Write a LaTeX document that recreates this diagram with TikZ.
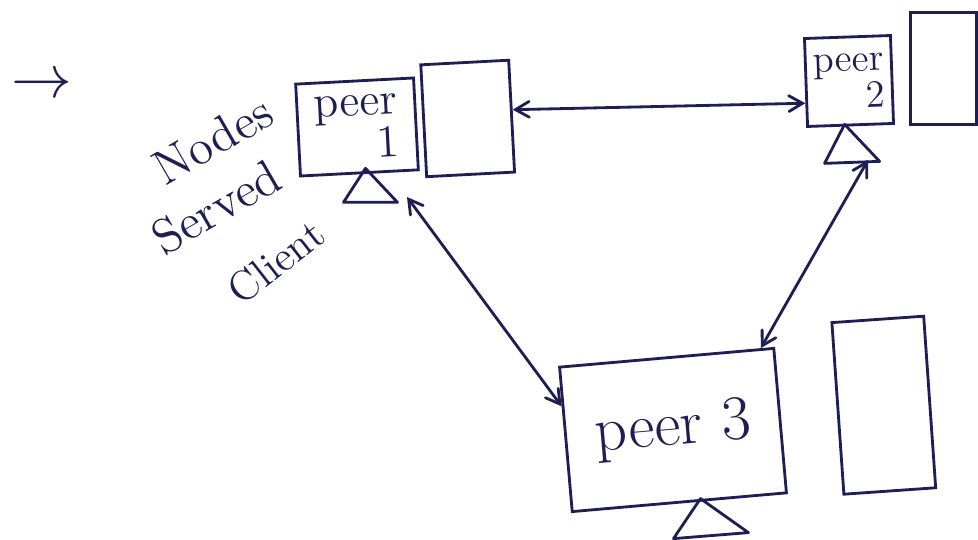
\documentclass[tikz,border=0pt]{standalone}
\usepackage{xcolor}
\usepackage{tikz}
\usetikzlibrary{shapes.geometric, arrows, positioning, calc}
\definecolor{ink}{RGB}{30,30,85}

\begin{document}
\begin{tikzpicture}[
    x=0.1mm, y=-0.1mm,
    box/.style = {rectangle, draw=ink, thick, text=ink, align=right, inner sep=1pt},
    tower/.style = {rectangle, draw=ink, thick, minimum width=8.8mm, minimum height=11.2mm},
    note/.style = {text=ink, font=\fontsize{14}{16}\selectfont, rotate=30},
    arrow/.style = {thick, draw=ink, <->, >=angle 60},
    stand/.style = {draw=ink, thick, line join=round}
]
\useasboundingbox[fill=white] (0,0) rectangle (978,540);

% Peers with their towers
\node (peer1) [box, minimum width=11.8mm, minimum height=9.2mm, rotate=3, font=\fontsize{13}{11}\selectfont] at (357,127) {peer\\1};
\node (tower1) [tower, right=0.5mm of peer1, yshift=0.3mm, rotate=3] {};
\node (peer2) [box, minimum width=8.6mm, minimum height=8.8mm, rotate=2, font=\fontsize{11}{9}\selectfont] at (849,81) {peer\\2};
\node (tower2) [tower, minimum width=6.6mm, right=1.6mm of peer2, yshift=1.1mm] {};
\node (peer3) [box, minimum width=21.5mm, minimum height=14.5mm, rotate=5, font=\fontsize{18}{20}\selectfont] at (673,430) {peer 3};
\node (tower3) [tower, minimum width=9.2mm, minimum height=17.2mm, right=5.5mm of peer3, yshift=1.2mm, rotate=4] {};

% Stands
\draw [stand] (peer1.south) ++(6,-6) -- ++(-22,34) -- ++(54,0) -- cycle;
\draw [stand] (peer2.south) ++(-6,-2) -- ++(-20,39) -- ++(55,-2) -- cycle;
\draw [stand] (peer3.south) ++(21,-5) -- ++(-27,40) -- ++(75,-6) -- cycle;

% Labels
\node (bullet) [text=ink, font=\fontsize{16}{16}\selectfont] at (42,86) {$\rightarrow$};
\node (nodes) [note] at (213,140) {Nodes};
\node (served) [note] at (216,207) {Served};
\node (client) [note, rotate=8, font=\fontsize{12}{14}\selectfont] at (276,262) {Client};

% Arrows
\coordinate (link1) at (407,197);
\coordinate (link2) at (868,160);
\draw [arrow] (tower1.8) -- (peer2.205);
\draw [arrow] (link1) -- (peer3.163);
\draw [arrow] (link2) -- (peer3.38);

\end{tikzpicture}
\end{document}
